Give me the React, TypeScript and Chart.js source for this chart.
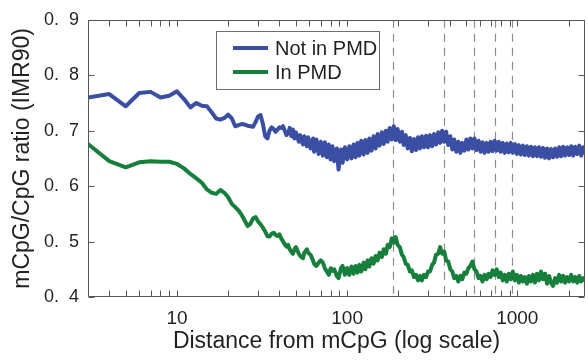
import React, { useEffect, useRef } from 'react';
import { Chart, registerables } from 'chart.js';

Chart.register(...registerables);

// Distance from mCpG (bp), shared by both series
const distances = [
  3, 4, 5, 6, 7, 8, 9, 10, 11, 12,
  13, 14, 15, 16, 17, 18, 19, 20, 21, 22,
  23, 24, 25, 26, 27, 28, 29, 30, 31, 32,
  33, 34, 35, 36, 37, 38, 39, 40, 41, 42,
  43, 44,
  45, 46, 47, 48, 49, 50, 52, 53, 55, 56,
  58, 59, 61, 63, 64, 66, 68, 70, 72, 74,
  76, 78, 80, 82, 84, 87, 89, 92, 94, 97,
  100, 103, 106, 109, 112, 115, 118, 121, 125, 128,
  132, 135, 139, 143, 147, 151, 155, 160, 164, 169,
  173, 178, 183, 188, 193, 198, 204, 210, 215, 221,
  227, 234, 240, 247, 254, 261, 268, 275, 283, 291,
  299, 307, 316, 324, 333, 343, 352, 362, 372, 382,
  393, 404, 415, 426, 438, 450, 463, 475, 489, 502,
  516, 530, 545, 560, 576, 592, 608, 625, 642, 660,
  678, 697, 716, 736, 757, 778, 799, 821, 844, 867,
  891, 916, 941, 967, 994, 1021, 1050, 1079, 1108, 1139,
  1170, 1203, 1236, 1270, 1305, 1341, 1378, 1416, 1455, 1496,
  1537, 1579, 1623, 1668, 1714, 1761, 1810, 1860, 1911, 1964,
  2018, 2074, 2131, 2190, 2250, 2313, 2376, 2442, 2500,
];

// mCpG/CpG ratio, outside PMDs
const notInPmd = [
  0.760, 0.766, 0.744, 0.768, 0.770, 0.760, 0.763, 0.771, 0.757, 0.742,
  0.750, 0.745, 0.744, 0.733, 0.722, 0.720, 0.723, 0.729, 0.722, 0.708,
  0.710, 0.712, 0.711, 0.709, 0.708, 0.707, 0.716, 0.726, 0.728, 0.712,
  0.690, 0.686, 0.700, 0.706, 0.703, 0.698, 0.702, 0.706, 0.705, 0.708,
  0.700, 0.692,
  0.695, 0.705, 0.690, 0.702, 0.686, 0.697, 0.680, 0.692, 0.675, 0.690,
  0.672, 0.688, 0.668, 0.686, 0.662, 0.684, 0.658, 0.680, 0.655, 0.679,
  0.652, 0.675, 0.648, 0.672, 0.645, 0.668, 0.630, 0.666, 0.642, 0.670,
  0.648, 0.672, 0.650, 0.675, 0.652, 0.678, 0.655, 0.682, 0.657, 0.683,
  0.660, 0.686, 0.664, 0.690, 0.668, 0.694, 0.673, 0.697, 0.676, 0.700,
  0.680, 0.705, 0.684, 0.708, 0.683, 0.703, 0.680, 0.698, 0.674, 0.692,
  0.668, 0.687, 0.663, 0.685, 0.665, 0.688, 0.668, 0.690, 0.670, 0.691,
  0.670, 0.692, 0.672, 0.694, 0.675, 0.697, 0.678, 0.700, 0.680, 0.698,
  0.674, 0.690, 0.666, 0.684, 0.662, 0.680, 0.660, 0.678, 0.664, 0.684,
  0.666, 0.686, 0.668, 0.686, 0.665, 0.682, 0.662, 0.679, 0.660, 0.678,
  0.662, 0.680, 0.663, 0.682, 0.664, 0.680, 0.662, 0.678, 0.660, 0.677,
  0.661, 0.678, 0.660, 0.676, 0.658, 0.674, 0.657, 0.673, 0.656, 0.672,
  0.655, 0.671, 0.654, 0.670, 0.654, 0.670, 0.653, 0.669, 0.651, 0.668,
  0.650, 0.667, 0.652, 0.668, 0.653, 0.670, 0.654, 0.671, 0.655, 0.670,
  0.656, 0.672, 0.655, 0.671, 0.658, 0.673, 0.655, 0.670, 0.660,
];

// mCpG/CpG ratio, inside PMDs
const inPmd = [
  0.676, 0.645, 0.634, 0.643, 0.645, 0.644, 0.644, 0.640, 0.632, 0.622,
  0.614, 0.606, 0.594, 0.588, 0.586, 0.593, 0.588, 0.580, 0.568, 0.562,
  0.556, 0.548, 0.538, 0.528, 0.532, 0.542, 0.544, 0.536, 0.531, 0.525,
  0.518, 0.510, 0.509, 0.514, 0.516, 0.512, 0.510, 0.513, 0.506, 0.500,
  0.495, 0.491,
  0.494, 0.486, 0.482, 0.478, 0.486, 0.490, 0.478, 0.474, 0.470, 0.480,
  0.486, 0.480, 0.476, 0.466, 0.460, 0.456, 0.462, 0.466, 0.462, 0.452,
  0.446, 0.440, 0.452, 0.447, 0.450, 0.438, 0.434, 0.452, 0.456, 0.440,
  0.452, 0.440, 0.455, 0.442, 0.456, 0.444, 0.458, 0.446, 0.462, 0.450,
  0.466, 0.455, 0.470, 0.460, 0.474, 0.466, 0.480, 0.472, 0.486, 0.478,
  0.494, 0.490, 0.506, 0.498, 0.508, 0.494, 0.490, 0.476, 0.472, 0.460,
  0.458, 0.446, 0.448, 0.436, 0.440, 0.430, 0.438, 0.430, 0.440, 0.436,
  0.446, 0.446, 0.458, 0.462, 0.476, 0.478, 0.490, 0.478, 0.482, 0.466,
  0.464, 0.450, 0.446, 0.434, 0.438, 0.428, 0.438, 0.432, 0.444, 0.442,
  0.452, 0.456, 0.464, 0.450, 0.446, 0.434, 0.438, 0.428, 0.440, 0.432,
  0.442, 0.436, 0.448, 0.440, 0.450, 0.436, 0.444, 0.430, 0.440, 0.428,
  0.442, 0.432, 0.446, 0.430, 0.440, 0.426, 0.438, 0.428, 0.436, 0.424,
  0.438, 0.428, 0.440, 0.426, 0.442, 0.430, 0.446, 0.432, 0.442, 0.424,
  0.438, 0.426, 0.420, 0.434, 0.426, 0.440, 0.428, 0.438, 0.426, 0.436,
  0.428, 0.440, 0.428, 0.436, 0.426, 0.438, 0.428, 0.434, 0.430,
];

const seriesNames = ['Not in PMD', 'In PMD'];
const seriesColors = ['#3a4fa3', '#157f3b'];

const xTickValues = [
  4, 5, 6, 7, 8, 9, 10, 20, 30, 40, 50, 60, 70, 80, 90,
  100, 200, 300, 400, 500, 600, 700, 800, 900, 1000, 2000,
];
const xTickLabels = [10, 100, 1000];
const yTickValues = [0.4, 0.5, 0.6, 0.7, 0.8, 0.9];
// nucleosome-repeat reference lines (bp)
const repeatMarks = [185, 370, 555, 740, 925];

const xTitle = 'Distance from mCpG (log scale)';
const yTitle = 'mCpG/CpG ratio (IMR90)';

const FONT = '"Liberation Sans", Arial, Helvetica, sans-serif';
const TEXT = '#231f20';
const AXIS = '#555555';

const decorPlugin = {
  id: 'decor',
  beforeDatasetsDraw(chart: any) {
    const { ctx, chartArea: a, scales } = chart;
    const x = scales.x;
    ctx.save();
    ctx.strokeStyle = '#8c8c8c';
    ctx.lineWidth = 1.2;
    ctx.setLineDash([8, 6]);
    for (const v of repeatMarks) {
      const px = Math.round(x.getPixelForValue(v)) + 0.5;
      ctx.beginPath();
      ctx.moveTo(px, a.top);
      ctx.lineTo(px, a.bottom);
      ctx.stroke();
    }
    ctx.restore();
  },
  afterDatasetsDraw(chart: any) {
    const { ctx, chartArea: a, scales } = chart;
    const x = scales.x;
    const y = scales.y;
    const L = Math.round(a.left) + 0.5;
    const R = Math.round(a.right) - 0.5;
    const T = Math.round(a.top) + 0.5;
    const B = Math.round(a.bottom) - 0.5;
    ctx.save();
    ctx.strokeStyle = AXIS;
    ctx.lineWidth = 1;
    ctx.setLineDash([]);
    ctx.beginPath();
    ctx.rect(L, T, R - L, B - T);
    ctx.stroke();
    const tl = 6;
    ctx.beginPath();
    for (const v of xTickValues) {
      const px = Math.round(x.getPixelForValue(v)) + 0.5;
      ctx.moveTo(px, B);
      ctx.lineTo(px, B - tl);
      ctx.moveTo(px, T);
      ctx.lineTo(px, T + tl);
    }
    for (const v of yTickValues) {
      const py = Math.round(y.getPixelForValue(v)) + 0.5;
      ctx.moveTo(L, py);
      ctx.lineTo(L + tl, py);
      ctx.moveTo(R, py);
      ctx.lineTo(R - tl, py);
    }
    ctx.stroke();

    // legend box
    const bx = 216.5, by = 31.5, bw = 163, bh = 58;
    ctx.fillStyle = '#ffffff';
    ctx.fillRect(bx, by, bw, bh);
    ctx.strokeStyle = '#6e6e6e';
    ctx.strokeRect(bx, by, bw, bh);
    const rows = [48, 72];
    ctx.font = `20px ${FONT}`;
    ctx.textBaseline = 'middle';
    ctx.textAlign = 'left';
    chart.data.datasets.forEach((ds: any, i: number) => {
      const ry = rows[i];
      ctx.strokeStyle = ds.borderColor;
      ctx.lineWidth = 4;
      ctx.beginPath();
      ctx.moveTo(233, ry);
      ctx.lineTo(268, ry);
      ctx.stroke();
      ctx.fillStyle = TEXT;
      ctx.fillText(ds.label, 275, ry + 1);
    });
    ctx.restore();
  },
};

export default function App() {
  const ref = useRef<HTMLCanvasElement | null>(null);

  useEffect(() => {
    const canvas = ref.current;
    if (!canvas) return;
    const makeData = (vals: number[]) => distances.map((d, i) => ({ x: d, y: vals[i] }));
    const chart = new Chart(canvas, {
      type: 'line',
      data: {
        datasets: [
          {
            label: seriesNames[0],
            data: makeData(notInPmd),
            borderColor: seriesColors[0],
            backgroundColor: seriesColors[0],
            borderWidth: 4,
            pointRadius: 0,
            tension: 0,
          },
          {
            label: seriesNames[1],
            data: makeData(inPmd),
            borderColor: seriesColors[1],
            backgroundColor: seriesColors[1],
            borderWidth: 4,
            pointRadius: 0,
            tension: 0,
          },
        ],
      },
      options: {
        animation: false,
        responsive: false,
        maintainAspectRatio: false,
        devicePixelRatio: 1,
        layout: { padding: { top: 13, right: 3, left: 0, bottom: 0 } },
        elements: { line: { borderJoinStyle: 'round', borderCapStyle: 'round' } },
        plugins: {
          legend: { display: false },
          tooltip: { enabled: false },
        },
        scales: {
          x: {
            type: 'logarithmic',
            min: 3,
            max: 2500,
            grid: { display: false, drawTicks: false },
            border: { display: false },
            afterBuildTicks: (s: any) => {
              s.ticks = xTickValues.map((v) => ({ value: v }));
            },
            afterFit: (s: any) => {
              s.height = 63;
            },
            ticks: {
              autoSkip: false,
              maxRotation: 0,
              minRotation: 0,
              padding: 10,
              color: TEXT,
              font: { family: FONT, size: 19 },
              callback: (v: any) => (xTickLabels.includes(Number(v)) ? String(v) : ''),
            },
            title: {
              display: true,
              text: xTitle,
              color: TEXT,
              font: { family: FONT, size: 23 },
              padding: { top: 0, bottom: 5 },
            },
          },
          y: {
            type: 'linear',
            min: 0.4,
            max: 0.9,
            grid: { display: false, drawTicks: false },
            border: { display: false },
            afterBuildTicks: (s: any) => {
              s.ticks = yTickValues.map((v) => ({ value: v }));
            },
            afterFit: (s: any) => {
              s.width = 88;
            },
            ticks: {
              padding: 9,
              color: TEXT,
              font: { family: FONT, size: 18 },
              callback: (v: any) => '0.  ' + Math.round(Number(v) * 10),
            },
            title: {
              display: true,
              text: yTitle,
              color: TEXT,
              font: { family: FONT, size: 23 },
              padding: { top: 9, bottom: 0 },
            },
          },
        },
      },
      plugins: [decorPlugin],
    } as any);
    return () => chart.destroy();
  }, []);

  return (
    <canvas
      ref={ref}
      width={588}
      height={360}
      style={{ position: 'absolute', left: 0, top: 0, width: 588, height: 360 }}
    />
  );
}
